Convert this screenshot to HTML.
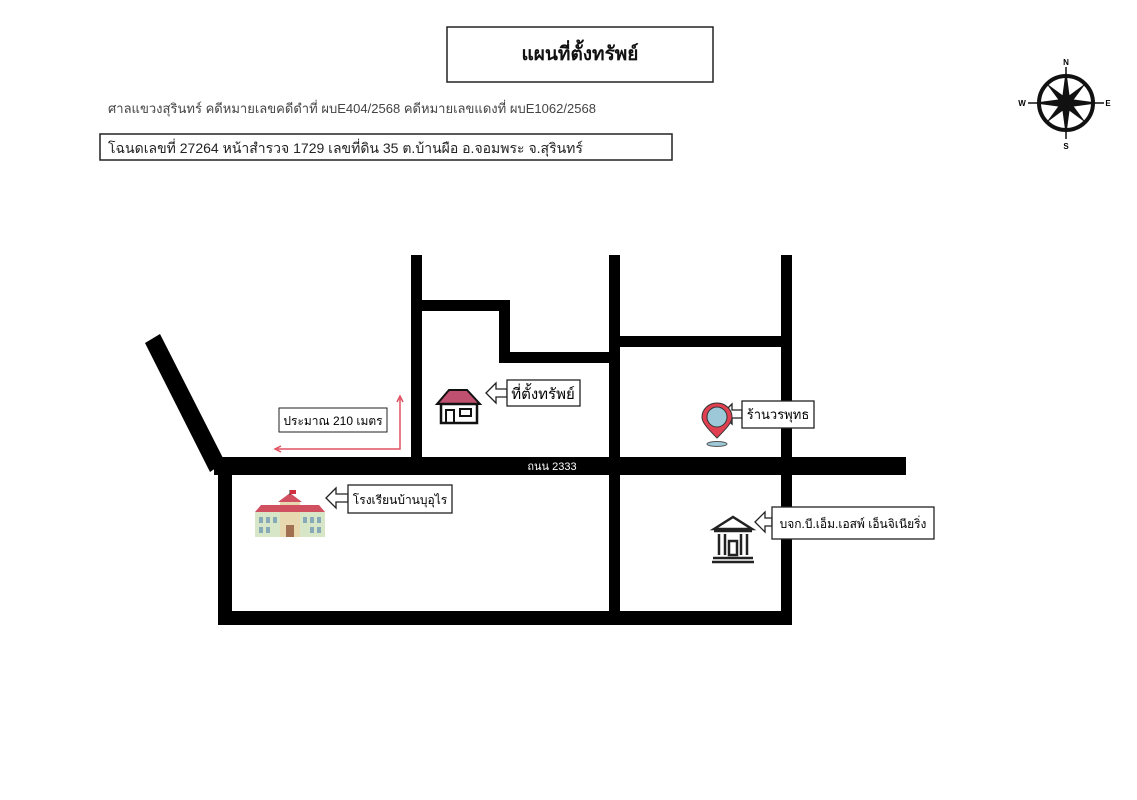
<!DOCTYPE html>
<html><head><meta charset="utf-8"><style>
body{margin:0;background:#fff;width:1137px;height:800px;overflow:hidden;font-family:"Liberation Sans","DejaVu Sans",sans-serif}
svg{display:block}
</style></head><body>
<svg width="1137" height="800" viewBox="0 0 1137 800" font-family="Liberation Sans, DejaVu Sans, sans-serif">
<rect x="447" y="27" width="266" height="55" fill="#fff" stroke="#222" stroke-width="1.5"/>
<text x="580" y="60" font-size="19" font-weight="bold" text-anchor="middle" fill="#111">แผนที่ตั้งทรัพย์</text>
<text x="108" y="113" font-size="13" fill="#444" textLength="488" lengthAdjust="spacingAndGlyphs">ศาลแขวงสุรินทร์ คดีหมายเลขคดีดำที่ ผบE404/2568 คดีหมายเลขแดงที่ ผบE1062/2568</text>
<rect x="100" y="134" width="572" height="26" fill="#fff" stroke="#222" stroke-width="1.5"/>
<text x="108" y="153" font-size="14" fill="#222">โฉนดเลขที่ 27264 หน้าสำรวจ 1729 เลขที่ดิน 35 ต.บ้านผือ อ.จอมพระ จ.สุรินทร์</text>
<g transform="translate(1066,103)">
<circle r="27" fill="none" stroke="#111" stroke-width="4"/>
<line x1="-38" y1="0" x2="38" y2="0" stroke="#111" stroke-width="1.5"/>
<line x1="0" y1="-36" x2="0" y2="36" stroke="#111" stroke-width="1.5"/>
<polygon points="0,-34 4,-4 34,0 4,4 0,34 -4,4 -34,0 -4,-4" fill="#111"/>
<polygon points="-20,-20 3,-3 20,20 -3,3" fill="#111"/>
<polygon points="20,-20 3,3 -20,20 -3,-3" fill="#111"/>
<text x="0" y="-38" font-size="8" font-weight="bold" text-anchor="middle">N</text>
<text x="0" y="46" font-size="8" font-weight="bold" text-anchor="middle">S</text>
<text x="-44" y="3" font-size="8" font-weight="bold" text-anchor="middle">W</text>
<text x="42" y="3" font-size="8" font-weight="bold" text-anchor="middle">E</text>
</g>
<g fill="#000">
<polygon points="145,343 160,334 225,462 210,472"/>
<rect x="214" y="457" width="692" height="18"/>
<rect x="411" y="255" width="11" height="205"/>
<rect x="411" y="300" width="99" height="11"/>
<rect x="499" y="300" width="11" height="62"/>
<rect x="499" y="352" width="120" height="11"/>
<rect x="609" y="255" width="11" height="370"/>
<rect x="609" y="336" width="182" height="11"/>
<rect x="781" y="255" width="11" height="370"/>
<rect x="218" y="468" width="14" height="157"/>
<rect x="218" y="611" width="574" height="14"/>
</g>
<text x="552" y="470" font-size="11" fill="#fff" text-anchor="middle">ถนน 2333</text>
<g stroke="#e05060" stroke-width="1.5" fill="none">
<polyline points="400,398 400,449 277,449"/>
<polyline points="397,402 400,396 403,402"/>
<polyline points="281,446 275,449 281,452"/>
</g>
<rect x="279" y="408" width="108" height="24" fill="#fff" stroke="#222"/>
<text x="333" y="425" font-size="12" text-anchor="middle">ประมาณ 210 เมตร</text>
<g transform="translate(437,388)">
<polygon points="0,16 12,2 30,2 43,16" fill="#c05070" stroke="#111" stroke-width="2"/>
<rect x="4" y="16" width="36" height="19" fill="#fff" stroke="#111" stroke-width="2.5"/>
<rect x="9" y="22" width="8" height="13" fill="none" stroke="#111" stroke-width="2"/>
<rect x="23" y="21" width="11" height="7" fill="none" stroke="#111" stroke-width="2"/>
</g>
<g fill="#fff" stroke="#222" stroke-width="1.3">
<polygon points="486,393 496,383 496,389 507,389 507,397 496,397 496,403"/>
<rect x="507" y="380" width="73" height="26"/>
<polygon points="722,414 732,404 732,410 742,410 742,418 732,418 732,424"/>
<rect x="742" y="401" width="72" height="27"/>
<polygon points="326,498 336,488 336,494 348,494 348,502 336,502 336,508"/>
<rect x="348" y="485" width="104" height="28"/>
<polygon points="755,522 765,512 765,518 772,518 772,526 765,526 765,532"/>
<rect x="772" y="507" width="162" height="32"/>
</g>
<text x="543" y="399" font-size="15" text-anchor="middle">ที่ตั้งทรัพย์</text>
<text x="778" y="419" font-size="13" text-anchor="middle">ร้านวรพุทธ</text>
<text x="400" y="504" font-size="12" text-anchor="middle">โรงเรียนบ้านบุอุไร</text>
<text x="853" y="528" font-size="12" text-anchor="middle">บจก.บี.เอ็ม.เอสพ์ เอ็นจิเนียริ่ง</text>
<g transform="translate(702,403)">
<path d="M15,35 C4,24 0,19 0,14 A15,14 0 0 1 30,14 C30,19 26,24 15,35Z" fill="#e04050" stroke="#333" stroke-width="1"/>
<circle cx="15" cy="14" r="10" fill="#9cc8d8" stroke="#333"/>
<ellipse cx="15" cy="41" rx="10" ry="2.5" fill="#9cc8d8" stroke="#555"/>
</g>
<g transform="translate(255,490)">
<rect x="0" y="22" width="70" height="25" fill="#d8e6c8"/>
<rect x="25" y="10" width="20" height="37" fill="#e8d8b0"/>
<polygon points="0,22 6,15 64,15 70,22" fill="#d05060"/>
<polygon points="23,12 35,3 47,12" fill="#d05060"/>
<line x1="35" y1="0" x2="35" y2="5" stroke="#333"/>
<rect x="35" y="0" width="6" height="4" fill="#d03040"/>
<g fill="#88aab8"><rect x="4" y="27" width="4" height="6"/><rect x="11" y="27" width="4" height="6"/><rect x="18" y="27" width="4" height="6"/><rect x="48" y="27" width="4" height="6"/><rect x="55" y="27" width="4" height="6"/><rect x="62" y="27" width="4" height="6"/><rect x="4" y="37" width="4" height="6"/><rect x="11" y="37" width="4" height="6"/><rect x="55" y="37" width="4" height="6"/><rect x="62" y="37" width="4" height="6"/></g>
<rect x="31" y="35" width="8" height="12" fill="#a07050"/>
</g>
<g transform="translate(712,515)" fill="none" stroke="#222" stroke-width="2.5">
<polygon points="2,14 21,2 40,14" fill="#fff"/>
<line x1="2" y1="16" x2="40" y2="16"/>
<line x1="7" y1="19" x2="7" y2="40"/><line x1="13" y1="19" x2="13" y2="40"/>
<line x1="29" y1="19" x2="29" y2="40"/><line x1="35" y1="19" x2="35" y2="40"/>
<rect x="17" y="26" width="8" height="14"/>
<line x1="1" y1="43" x2="41" y2="43"/><line x1="0" y1="47" x2="42" y2="47"/>
</g>
</svg>
</body></html>
